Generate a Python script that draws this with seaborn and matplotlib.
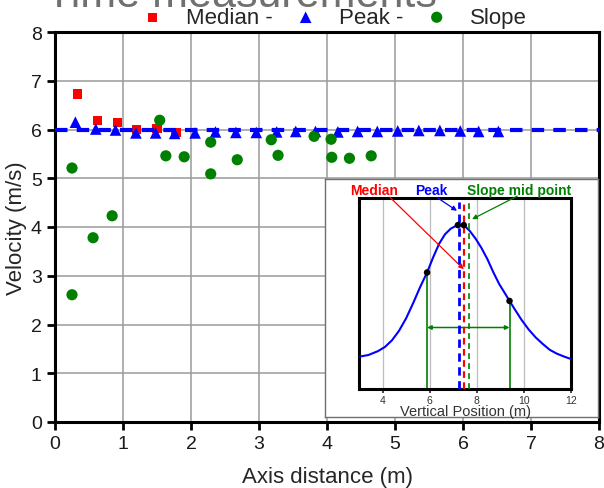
import numpy as np
import matplotlib
matplotlib.use('Agg')
import matplotlib.pyplot as plt
import seaborn as sns

# main chart values
median_x = [0.33, 0.62, 0.92, 1.20, 1.50, 1.78]
median_v = [6.73, 6.18, 6.15, 6.00, 6.02, 5.94]
peak_x = [0.30, 0.60, 0.89, 1.19, 1.48, 1.76, 2.06, 2.36, 2.66, 2.96, 3.26,
          3.54, 3.83, 4.16, 4.45, 4.74, 5.04, 5.35, 5.66, 5.96, 6.23, 6.52]
peak_v = [6.15, 6.01, 5.99, 5.93, 5.93, 5.92, 5.93, 5.95, 5.94, 5.94, 5.95,
          5.96, 5.96, 5.95, 5.96, 5.96, 5.97, 5.98, 5.98, 5.97, 5.96, 5.96]
slope_x = [0.25, 0.25, 0.56, 0.84, 1.54, 1.63, 1.90, 2.29, 2.29, 2.68, 3.18,
           3.28, 3.81, 4.06, 4.07, 4.33, 4.65]
slope_v = [5.21, 2.61, 3.78, 4.23, 6.19, 5.46, 5.44, 5.74, 5.09, 5.38, 5.79,
           5.47, 5.86, 5.80, 5.43, 5.41, 5.46]
peak_mean = 6.0
legend_labels = ['Median -', 'Peak -', 'Slope']

# inset profile values
curve_x = [3.0, 3.4, 3.8, 4.1, 4.4, 4.7, 5.0, 5.3, 5.6, 5.89, 6.15, 6.4, 6.65,
           6.9, 7.1, 7.3, 7.5, 7.7, 7.95, 8.2, 8.45, 8.7, 8.95, 9.2, 9.39,
           9.65, 9.9, 10.2, 10.5, 10.8, 11.1, 11.4, 11.7, 12.0]
curve_y = [0.169, 0.178, 0.198, 0.220, 0.255, 0.305, 0.370, 0.450, 0.535,
           0.610, 0.690, 0.760, 0.810, 0.840, 0.853, 0.858, 0.852, 0.828,
           0.787, 0.738, 0.680, 0.612, 0.550, 0.500, 0.461, 0.410, 0.362,
           0.312, 0.270, 0.236, 0.205, 0.185, 0.170, 0.157]
peak_dots_x = [7.2, 7.45]
peak_dots_y = [0.858, 0.858]
slope_dots_x = [5.89, 9.39]
slope_dots_y = [0.610, 0.461]
pos_peak, pos_median, pos_slope = 7.25, 7.46, 7.66
width_level = 0.322

sns.set_style('white')
plt.rcParams['font.family'] = ['Liberation Sans', 'DejaVu Sans']

fig = plt.figure(figsize=(6.04, 4.89), dpi=100)
ax = fig.add_axes([55/604, 1-423/489, 544/604, 390/489])

sns.scatterplot(x=median_x, y=median_v, marker='s', color='#ff0000', s=45,
                edgecolor='none', ax=ax, label=legend_labels[0], zorder=4)
sns.scatterplot(x=peak_x, y=peak_v, marker='^', color='#0000ff', s=70,
                edgecolor='none', ax=ax, label=legend_labels[1], zorder=4)
sns.scatterplot(x=slope_x, y=slope_v, marker='o', color='#008000', s=65,
                edgecolor='none', ax=ax, label=legend_labels[2], zorder=4)
ax.axhline(peak_mean, color='#0000ff', lw=3, ls=(0, (3.0, 2.2)), zorder=5)

ax.set_xlim(0, 8)
ax.set_ylim(0, 8)
ax.set_xticks(range(0, 9))
ax.set_yticks(range(0, 9))
ax.grid(True, color='#9a9a9a', lw=1.1)
for s in ax.spines.values():
    s.set_visible(True)
    s.set_color('black')
    s.set_linewidth(2.2)
ax.tick_params(axis='both', direction='out', length=6, width=2, labelsize=14,
               colors='black', labelcolor='#1a1a1a', left=True, bottom=True)
ax.set_xlabel('Axis distance (m)', fontsize=16, labelpad=10)
ax.set_ylabel('Velocity (m/s)', fontsize=16, labelpad=3)

h, l = ax.get_legend_handles_labels()
if ax.get_legend():
    ax.get_legend().remove()
fig.legend(h, l, loc='center', bbox_to_anchor=(0.553, 0.962), ncol=3,
           frameon=False, fontsize=16, handlelength=1.0, handletextpad=1.0,
           columnspacing=1.0, borderpad=0, scatterpoints=1)

fig.text(46/604, 1-7/489, 'Time measurements', fontsize=31, color='#707070',
         ha='left', va='baseline')

# inset frame
box = fig.add_axes([325/604, 1-418/489, 273/604, 238/489], zorder=10)
box.set_xticks([])
box.set_yticks([])
box.set_facecolor('white')
for s in box.spines.values():
    s.set_color('#707070')
    s.set_linewidth(1)

axin = fig.add_axes([359/604, 1-390/489, 212/604, 191/489], zorder=11)
sns.lineplot(x=curve_x, y=curve_y, color='#0000ff', lw=1.5, ax=axin, zorder=3)
axin.set_xlim(3, 12)
axin.set_ylim(0, 1)
axin.set_xticks([4, 6, 8, 10, 12])
axin.set_yticks([])
axin.grid(True, axis='x', color='#bdbdbd', lw=0.9)
for s in axin.spines.values():
    s.set_visible(True)
    s.set_color('black')
    s.set_linewidth(2.2)
axin.tick_params(axis='x', direction='out', length=3, width=1.2, labelsize=7.5,
                 labelcolor='#333333', pad=1.5, bottom=True)
axin.set_xlabel('Vertical Position (m)', fontsize=10.5, labelpad=-1, color='#333333')

# width marker
for xv, yv in zip(slope_dots_x, slope_dots_y):
    axin.plot([xv, xv], [0, yv], color='#008000', lw=1.2, zorder=2)
axin.annotate('', xy=(slope_dots_x[0], width_level), xytext=(slope_dots_x[1], width_level),
              arrowprops=dict(arrowstyle='<|-|>', color='#008000', lw=1.1,
                              mutation_scale=6, shrinkA=0, shrinkB=0))

# position markers
axin.plot([pos_peak, pos_peak], [0, 0.977], color='#0000ff', lw=2, ls=(0, (3, 2)), zorder=4)
axin.plot([pos_median, pos_median], [0, 0.977], color='#ff0000', lw=1.6, ls=(0, (3, 2)), zorder=4)
axin.plot([pos_slope, pos_slope], [0, 0.986], color='#008000', lw=1.2, ls=(0, (3.5, 2.5)), zorder=4)

sns.scatterplot(x=peak_dots_x + slope_dots_x, y=peak_dots_y + slope_dots_y,
                color='black', s=22, edgecolor='none', ax=axin, zorder=6)

# labels with arrows
axin.text(3.66, 1.042, 'Median', color='#ff0000', fontsize=10, fontweight='bold',
          ha='center', va='center', clip_on=False)
axin.text(6.06, 1.042, 'Peak', color='#0000ff', fontsize=10, fontweight='bold',
          ha='center', va='center', clip_on=False)
axin.text(9.79, 1.042, 'Slope mid point', color='#008000', fontsize=10, fontweight='bold',
          ha='center', va='center', clip_on=False)
arrows = [((4.32, 1.003), (7.45, 0.627), '#ff0000'),
          ((6.31, 1.003), (7.16, 0.933), '#0000ff'),
          ((9.72, 1.01), (7.80, 0.889), '#008000')]
for start, end, c in arrows:
    axin.annotate('', xy=end, xytext=start, annotation_clip=False,
                  arrowprops=dict(arrowstyle='-|>', color=c, lw=0.9,
                                  mutation_scale=7, shrinkA=0, shrinkB=0))

fig.savefig('out.png', dpi=100)
